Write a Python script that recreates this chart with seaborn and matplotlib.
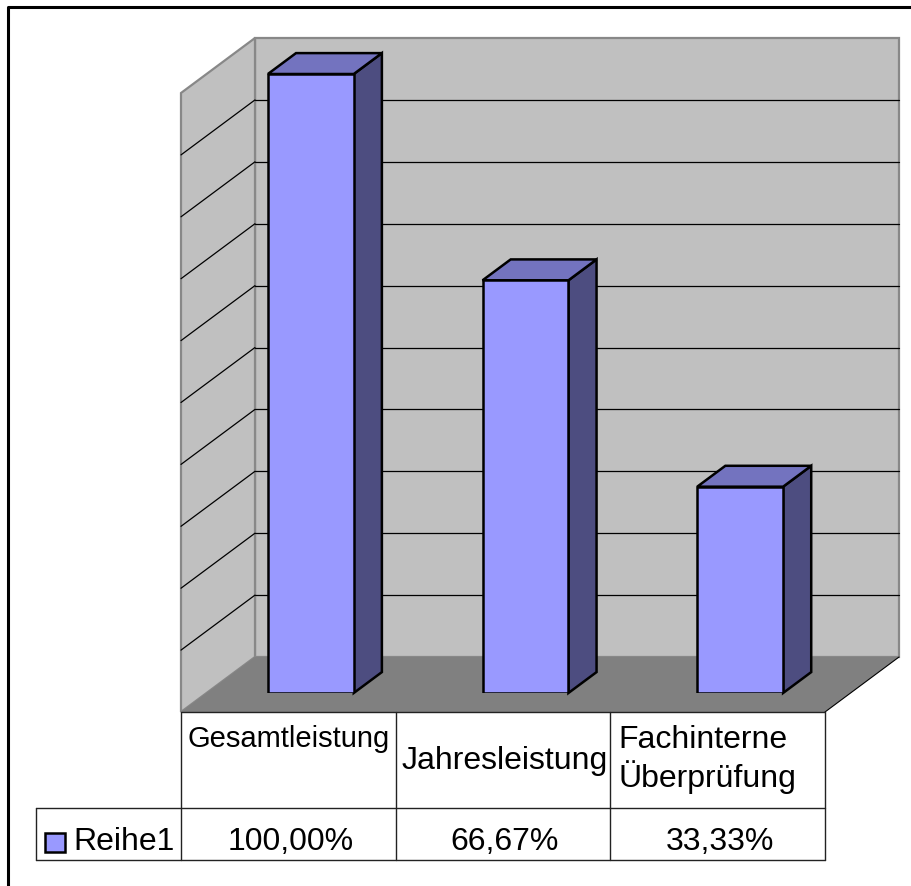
import matplotlib
matplotlib.use("Agg")
import matplotlib.pyplot as plt
import seaborn as sns
import pandas as pd
from matplotlib.patches import Polygon, Rectangle
from matplotlib.lines import Line2D

# ---- data ----
categories = ["Gesamtleistung", "Jahresleistung", "Fachinterne\nÜberprüfung"]
values = [1.0, 0.6667, 0.3333]
value_labels = ["100,00%", "66,67%", "33,33%"]
series_name = "Reihe1"
grid_levels = [0.1, 0.2, 0.3, 0.4, 0.5, 0.6, 0.7, 0.8, 0.9]

# ---- style ----
sns.set_theme(style="white")
plt.rcParams["font.family"] = ["Liberation Sans", "DejaVu Sans"]

W, H = 911, 886
fig = plt.figure(figsize=(W / 100, H / 100), dpi=100)
fig.patch.set_facecolor("white")

ax = fig.add_axes([203.5 / W, 193 / H, 644 / W, 619 / H])
df = pd.DataFrame({"cat": categories, "val": values})
sns.barplot(data=df, x="cat", y="val", color="#9999FF", saturation=1,
            width=0.4, edgecolor="black", linewidth=1.8, ax=ax, zorder=6)
ax.set_xlim(-0.5, 2.5)
ax.set_ylim(0, 1)
ax.set_axis_off()

DX, DY = 74, 55          # depth vector of the floor, pixels
OX, OY = 22.5, 19        # offset of bar front plane from floor front, pixels
F_BAR = 0.0              # (depth measured relative to bar front plane below)
BAR_D = 0.38             # bar depth (fraction of floor depth)
inv = fig.transFigure.inverted()


def P(x, y, d):
    """d: 0 = floor front, 1 = back wall; None -> bar front plane."""
    px, py = ax.transData.transform((x, y))
    px += d * DX - OX
    py += d * DY - OY
    return inv.transform((px, py))


D0 = OX / DX            # depth of the bar front plane (x-based)
D0y = OY / DY


def PB(x, y, t):
    """point on a bar at depth t (0 = front face, 1 = back)"""
    px, py = ax.transData.transform((x, y))
    px += t * BAR_D * DX
    py += t * BAR_D * DY
    return inv.transform((px, py))


def px2fig(x, y):
    return (x / W, 1 - y / H)


def poly(pts, fc, ec="none", lw=0, z=1):
    ax.add_patch(Polygon(pts, closed=True, facecolor=fc, edgecolor=ec,
                         linewidth=lw, transform=fig.transFigure,
                         clip_on=False, zorder=z, joinstyle="miter"))


def line(p0, p1, color="black", lw=0.8, z=2):
    ax.add_line(Line2D([p0[0], p1[0]], [p0[1], p1[1]], color=color, lw=lw,
                       transform=fig.transFigure, clip_on=False, zorder=z))


# back wall
poly([P(-0.5, 0, 1), P(2.5, 0, 1), P(2.5, 1, 1), P(-0.5, 1, 1)],
     "#C0C0C0", "#888888", 1.6, z=1)
# left wall
poly([P(-0.5, 0, 0), P(-0.5, 0, 1), P(-0.5, 1, 1), P(-0.5, 1, 0)],
     "#C0C0C0", "#888888", 1.6, z=1.1)
# floor
poly([P(-0.5, 0, 0), P(-0.5, 0, 1), P(2.5, 0, 1), P(2.5, 0, 0)],
     "#808080", "none", 0, z=1.2)
line(P(2.5, 0, 0), P(2.5, 0, 1), "black", 0.8, z=1.3)

# gridlines
for g in grid_levels:
    line(P(-0.5, g, 1), P(2.5, g, 1), "black", 0.9, z=1.5)
    line(P(-0.5, g, 1), P(-0.5, g, 0), "black", 0.9, z=1.5)

# 3D faces of bars
for rect in ax.patches:
    if not isinstance(rect, Rectangle):
        continue
    x0, w, h = rect.get_x(), rect.get_width(), rect.get_height()
    x1 = x0 + w
    poly([PB(x1, 0, 0), PB(x1, 0, 1), PB(x1, h, 1), PB(x1, h, 0)],
         "#4D4D80", "black", 1.8, z=5)
    poly([PB(x0, h, 0), PB(x1, h, 0), PB(x1, h, 1), PB(x0, h, 1)],
         "#7373BF", "black", 1.8, z=5)

# ---- data table ----
bounds = [-0.5, 0.5, 1.5, 2.5]
xb = [P(b, 0, 0)[0] for b in bounds]
y_top = P(-0.5, 0, 0)[1]
y_mid = y_top - 96 / H
y_bot = y_mid - 52 / H
x_leg = 36 / W
tc = "#222222"
line((xb[0], y_top), (xb[-1], y_top), tc, 1.0, z=3)
line((x_leg, y_mid), (xb[-1], y_mid), tc, 1.0, z=3)
line((x_leg, y_bot), (xb[-1], y_bot), tc, 1.0, z=3)
for xv in xb:
    line((xv, y_top), (xv, y_bot), tc, 1.0, z=3)
line((x_leg, y_mid), (x_leg, y_bot), tc, 1.0, z=3)

# (px offset from cell left, baseline px below table top, font size)
label_layout = [(6, 35, 21.0), (6, 57, 23), (8, 36, 23)]
line_gap = 39
for i, lab in enumerate(categories):
    ox, oy, fs = label_layout[i]
    for j, part in enumerate(lab.split("\n")):
        fig.text(xb[i] + ox / W, y_top - (oy + j * line_gap) / H, part,
                 ha="left", va="baseline", fontsize=fs, color="black")

for i, v in enumerate(value_labels):
    fig.text((xb[i] + xb[i + 1]) / 2 + 2 / W, y_bot + 10 / H, v,
             ha="center", va="baseline", fontsize=23, color="black")

# legend key in table
ax.add_patch(Rectangle(px2fig(45, 852), 20 / W, 19 / H, facecolor="#9999FF",
                       edgecolor="black", linewidth=1.8,
                       transform=fig.transFigure, clip_on=False, zorder=4))
fig.text(73 / W, y_bot + 10 / H, series_name, ha="left", va="baseline",
         fontsize=23, color="black")

# outer frame (cropped on right/bottom)
fig.add_artist(Line2D([8 / W, 8 / W, 1.02], [-0.02, 1 - 7 / H, 1 - 7 / H],
                      color="black", lw=2.2, transform=fig.transFigure))

fig.savefig("out.png", dpi=100, facecolor="white")
